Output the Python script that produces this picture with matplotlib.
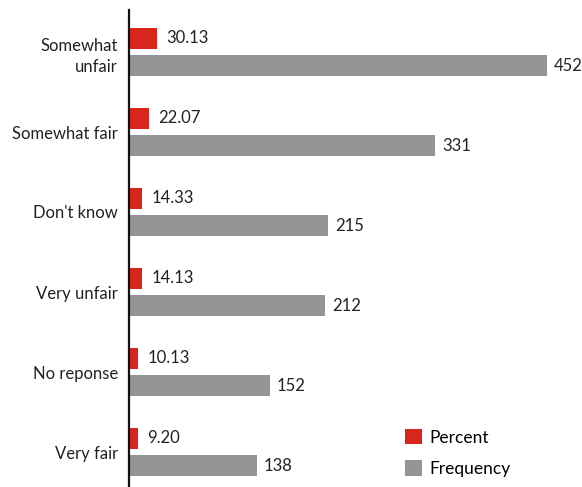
import numpy as np
import matplotlib
matplotlib.use("Agg")
import matplotlib.pyplot as plt

categories = ["Somewhat\nunfair", "Somewhat fair", "Don't know", "Very unfair", "No reponse", "Very fair"]
percent = [30.13, 22.07, 14.33, 14.13, 10.13, 9.20]
frequency = [452, 331, 215, 212, 152, 138]

RED = "#d9261c"
GRAY = "#959595"
plt.rcParams["font.family"] = ["Lato", "DejaVu Sans"]
FS = 12

fig = plt.figure(figsize=(5.82, 4.87), dpi=100)
ax = fig.add_axes([129/582, 0, 453/582, 1 - 10/487])

y = np.arange(len(categories))
h = 0.2625; off = 0.169
ax.barh(y - off, percent, height=h, color=RED, label="Percent")
ax.barh(y + off, frequency, height=h, color=GRAY, label="Frequency")

for yi, p, f in zip(y, percent, frequency):
    ax.text(p + 10, yi - off, f"{p:.2f}", va="center", ha="left", fontsize=FS, color="#222222")
    ax.text(f + 8, yi + off, f"{f}", va="center", ha="left", fontsize=FS, color="#222222")

ax.set_yticks(y)
ax.set_yticklabels(categories, fontsize=FS, color="#222222", linespacing=1.45)
ax.tick_params(axis="y", length=0, pad=8)
ax.set_xticks([])
ax.set_xlim(0, 490)
ax.set_ylim(5.4375, -0.525)
for s in ("top", "right", "bottom"):
    ax.spines[s].set_visible(False)
ax.spines["left"].set_linewidth(1.6)
ax.spines["left"].set_color("#111111")

ax.legend(frameon=False, fontsize=12.5, handlelength=1.0, handleheight=1.0,
          handletextpad=0.45, labelspacing=0.85,
          loc="lower left", bbox_to_anchor=((389-129)/453, -0.012))

fig.savefig("out.png", dpi=100)
